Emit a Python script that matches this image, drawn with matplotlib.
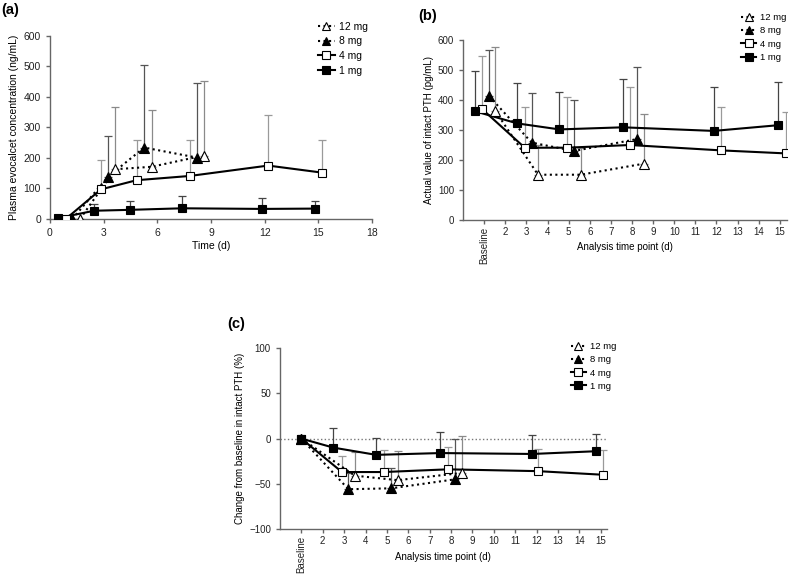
import matplotlib
matplotlib.use("Agg")
import matplotlib.pyplot as plt
from matplotlib.lines import Line2D

plt.rcParams['font.family'] = ['Liberation Sans', 'DejaVu Sans']

doses = ["12 mg", "8 mg", "4 mg", "1 mg"]

# (a) plasma evocalcet concentration (ng/mL)
a_x_1 = [0.47, 2.47, 4.5, 7.4, 11.85, 14.8]
a_y_1 = [3, 27, 30, 35, 33, 34]
a_top_1 = [3, 48, 60, 74, 70, 59]
a_x_4 = [0.88, 2.85, 4.84, 7.82, 12.2, 15.2]
a_y_4 = [0, 97, 127, 141, 175, 152]
a_top_4 = [0, 193, 260, 260, 340, 258]
a_x_8 = [1.25, 3.26, 5.27, 8.23]
a_y_8 = [0, 139, 234, 201]
a_top_8 = [0, 271, 505, 447]
a_x_12 = [1.68, 3.65, 5.68, 8.6]
a_y_12 = [0, 163, 171, 208]
a_top_12 = [0, 366, 356, 452]

# (b) actual value of intact PTH (pg/mL), Baseline plotted at 1
b_x_1 = [0.54, 2.57, 4.56, 7.57, 11.87, 14.92]
b_y_1 = [363, 322, 302, 309, 297, 316]
b_top_1 = [498, 457, 426, 470, 444, 460]
b_x_4 = [0.88, 2.92, 4.9, 7.9, 12.24, 15.3]
b_y_4 = [371, 241, 241, 250, 232, 222]
b_top_4 = [546, 378, 409, 444, 378, 360]
b_x_8 = [1.23, 3.25, 5.25, 8.26]
b_y_8 = [413, 258, 230, 270]
b_top_8 = [568, 422, 400, 509]
b_x_12 = [1.53, 3.55, 5.57, 8.58]
b_y_12 = [363, 151, 151, 188]
b_top_12 = [576, 250, 240, 353]

# (c) change from baseline in intact PTH (%)
c_x_1 = [1.0, 2.5, 4.5, 7.5, 11.8, 14.75]
c_y_1 = [0, -10, -18, -16, -17, -14]
c_top_1 = [0, 12, 0.5, 7, 4, 5]
c_x_4 = [1.0, 2.9, 4.85, 7.85, 12.05, 15.1]
c_y_4 = [0, -37, -37, -34, -36, -40]
c_top_4 = [0, -19, -13, -9, -12, -13]
c_x_8 = [1.0, 3.2, 5.2, 8.2]
c_y_8 = [0, -56, -55, -45]
c_top_8 = [0, -38, -33, -1]
c_x_12 = [1.0, 3.5, 5.5, 8.5]
c_y_12 = [0, -41, -46, -38]
c_top_12 = [0, -15, -14, 3]

day_labels = ["Baseline"] + [str(d) for d in range(2, 16)]

# style per dose: marker, face, linestyle, errorbar colour
styles = {
    "12 mg": dict(marker='^', mfc='white', ls=':', ecol='#8a8a8a'),
    "8 mg": dict(marker='^', mfc='black', ls=':', ecol='#555555'),
    "4 mg": dict(marker='s', mfc='white', ls='-', ecol='#9a9a9a'),
    "1 mg": dict(marker='s', mfc='black', ls='-', ecol='#444444'),
}


def draw_series(ax, x, y, top, dose):
    st = styles[dose]
    up = [max(t - v, 0) for t, v in zip(top, y)]
    lo = [0] * len(y)
    ax.errorbar(x, y, yerr=[lo, up], fmt='none', ecolor=st['ecol'],
                elinewidth=0.9, capsize=3, capthick=0.9, zorder=1)
    ax.plot(x, y, color='black', ls=st['ls'], lw=1.5, zorder=2)
    ax.plot(x, y, ls='none', marker=st['marker'], mfc=st['mfc'], mec='black',
            mew=0.8, ms=6.5 if st['marker'] == '^' else 6, zorder=3)


def style_axes(ax, fs):
    for s in ['top', 'right']:
        ax.spines[s].set_visible(False)
    for s in ['left', 'bottom']:
        ax.spines[s].set_color('#666666')
        ax.spines[s].set_linewidth(1.0)
    ax.tick_params(colors='#666666', labelcolor='#222222', labelsize=fs,
                   length=3, width=1.0, direction='out')


def add_legend(ax, anchor, fs):
    handles = []
    for d in doses:
        st = styles[d]
        handles.append(Line2D([], [], color='black', ls=st['ls'], lw=1.5,
                              marker=st['marker'], mfc=st['mfc'], mec='black',
                              mew=0.8, ms=6))
    ax.legend(handles, doses, loc='upper right', bbox_to_anchor=anchor,
              frameon=False, fontsize=fs, handlelength=1.6, handletextpad=0.4,
              labelspacing=0.45, borderaxespad=0)


fig = plt.figure(figsize=(7.93, 5.74), dpi=100)

# panel (a)
ax1 = fig.add_axes([0.063, 0.6185, 0.406, 0.319])
draw_series(ax1, a_x_12, a_y_12, a_top_12, "12 mg")
draw_series(ax1, a_x_8, a_y_8, a_top_8, "8 mg")
draw_series(ax1, a_x_4, a_y_4, a_top_4, "4 mg")
draw_series(ax1, a_x_1, a_y_1, a_top_1, "1 mg")
ax1.set_xlim(0, 18)
ax1.set_ylim(0, 600)
ax1.set_xticks(range(0, 19, 3))
ax1.set_yticks(range(0, 601, 100))
ax1.set_xlabel("Time (d)", fontsize=7.5, labelpad=2)
ax1.set_ylabel("Plasma evocalcet concentration (ng/mL)", fontsize=7.5, labelpad=3)
style_axes(ax1, 7.5)
add_legend(ax1, (1.0, 1.1), 7.5)
fig.text(0.002, 0.995, "(a)", fontsize=10.5, fontweight='bold', va='top')

# panel (b)
ax2 = fig.add_axes([0.584, 0.6167, 0.4086, 0.3136])
draw_series(ax2, b_x_12, b_y_12, b_top_12, "12 mg")
draw_series(ax2, b_x_8, b_y_8, b_top_8, "8 mg")
draw_series(ax2, b_x_4, b_y_4, b_top_4, "4 mg")
draw_series(ax2, b_x_1, b_y_1, b_top_1, "1 mg")
ax2.set_xlim(0, 15.35)
ax2.set_ylim(0, 600)
ax2.set_xticks(range(1, 16))
ax2.set_xticklabels(day_labels)
ax2.get_xticklabels()[0].set_rotation(90)
ax2.set_yticks(range(0, 601, 100))
ax2.set_xlabel("Analysis time point (d)", fontsize=7, labelpad=2)
ax2.xaxis.set_label_coords(0.5, -0.12)
ax2.set_ylabel("Actual value of intact PTH (pg/mL)", fontsize=7, labelpad=3)
style_axes(ax2, 7)
ax2.tick_params(axis='x', pad=2)
add_legend(ax2, (1.01, 1.17), 6.8)
fig.text(0.528, 0.985, "(b)", fontsize=10.5, fontweight='bold', va='top')

# panel (c)
ax3 = fig.add_axes([0.353, 0.0784, 0.412, 0.315])
ax3.axhline(0, color='#777777', ls=':', lw=1.0, zorder=0)
draw_series(ax3, c_x_12, c_y_12, c_top_12, "12 mg")
draw_series(ax3, c_x_8, c_y_8, c_top_8, "8 mg")
draw_series(ax3, c_x_4, c_y_4, c_top_4, "4 mg")
draw_series(ax3, c_x_1, c_y_1, c_top_1, "1 mg")
ax3.set_xlim(0, 15.27)
ax3.set_ylim(-100, 100)
ax3.set_xticks(range(1, 16))
ax3.set_xticklabels(day_labels)
ax3.get_xticklabels()[0].set_rotation(90)
ax3.set_yticks([-100, -50, 0, 50, 100])
ax3.set_xlabel("Analysis time point (d)", fontsize=7, labelpad=2)
ax3.xaxis.set_label_coords(0.5, -0.125)
ax3.set_ylabel("Change from baseline in intact PTH (%)", fontsize=7, labelpad=3)
style_axes(ax3, 7)
ax3.tick_params(axis='x', pad=2)
add_legend(ax3, (1.04, 1.055), 6.8)
fig.text(0.287, 0.448, "(c)", fontsize=10.5, fontweight='bold', va='top')

fig.savefig("out.png", dpi=100)
